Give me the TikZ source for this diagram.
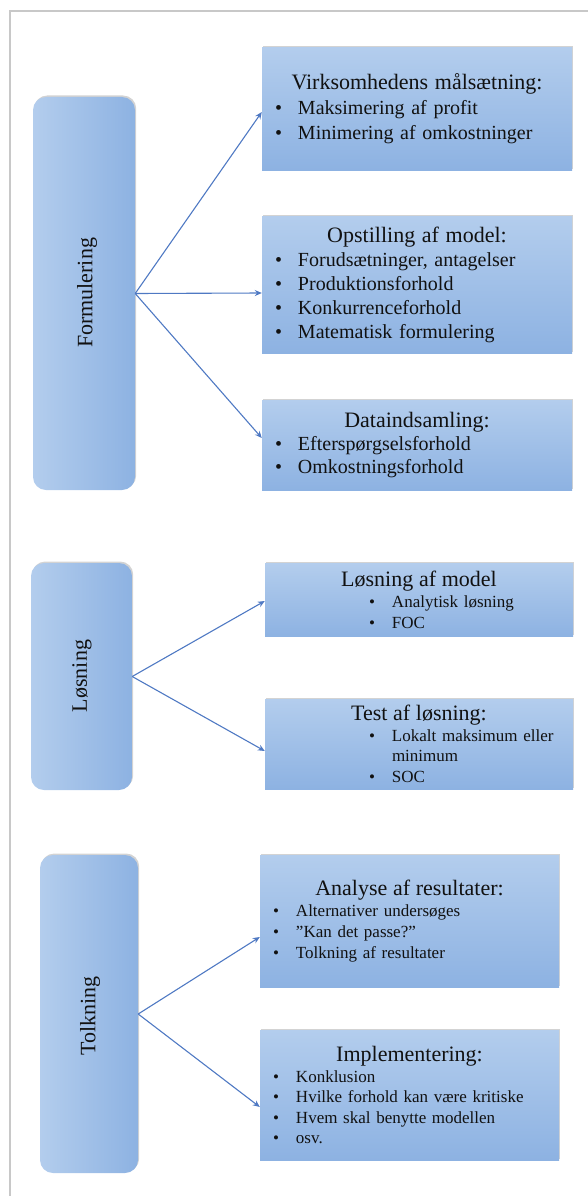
\documentclass[tikz,border=0pt]{standalone}
\usepackage{fontspec}
\setmainfont{Liberation Serif}
\usetikzlibrary{arrows.meta,shadows}

\definecolor{blaatop}{HTML}{B3CDED}
\definecolor{blaabund}{HTML}{8DB2E2}
\definecolor{pilblaa}{HTML}{4F79C3}
\definecolor{ramme}{HTML}{C8C8C8}
\definecolor{tekst}{HTML}{111111}

\newcommand{\pkt}[2]{\hspace*{#1}\makebox[23pt][l]{\textbullet}#2}
\newcommand{\overskrift}[1]{\makebox[\linewidth]{\fontsize{22}{25}\selectfont #1}}

\begin{document}
\begin{tikzpicture}[x=1pt,y=-1pt,
	kasse/.style={top color=blaatop, bottom color=blaabund, inner sep=0pt, align=left, text=tekst,
		drop shadow={shadow xshift=1.2pt, shadow yshift=1.5pt, opacity=.35}},
	fase/.style={rounded corners=13pt, left color=blaatop, right color=blaabund, inner sep=0pt,
		drop shadow={shadow xshift=1.2pt, shadow yshift=1.5pt, opacity=.35}},
	fasetekst/.style={rotate=90, text=tekst, font=\fontsize{22}{25}\selectfont},
	pil/.style={draw=pilblaa, line width=1.1pt, -{Stealth[length=7pt,width=6pt]}}]

	\useasboundingbox (0,0) rectangle (588,1196);
	\clip (0,0) rectangle (588,1196);
	\draw[ramme, line width=1.8pt] (10,11) rectangle (600,1210);

	% Formulering
	\node[fase, minimum width=102pt, minimum height=393pt] (form) at (84,293.5) {};
	\node[fasetekst] (formtekst) at (87,293) {Formulering};
	\node[kasse, text width=310pt, minimum height=122pt, font=\fontsize{20}{25}\selectfont] (maal) at (417,109)
		{\overskrift{Virksomhedens målsætning:}\\
		 \pkt{13pt}{Maksimering af profit}\\
		 \pkt{13pt}{Minimering af omkostninger}};
	\node[kasse, text width=310pt, minimum height=137pt, font=\fontsize{20}{24}\selectfont] (model) at (417,285)
		{\overskrift{Opstilling af model:}\\
		 \pkt{13pt}{Forudsætninger, antagelser}\\
		 \pkt{13pt}{Produktionsforhold}\\
		 \pkt{13pt}{Konkurrenceforhold}\\
		 \pkt{13pt}{Matematisk formulering}};
	\node[kasse, text width=310pt, minimum height=90pt, font=\fontsize{20}{23}\selectfont] (data) at (417,445)
		{\overskrift{Dataindsamling:}\\
		 \pkt{13pt}{Efterspørgselsforhold}\\
		 \pkt{13pt}{Omkostningsforhold}};

	% Løsning
	\node[fase, minimum width=101pt, minimum height=227pt] (loes) at (81.5,676.5) {};
	\node[fasetekst] (loestekst) at (82,676) {Løsning};
	\node[kasse, text width=308pt, minimum height=73pt, font=\fontsize{17}{21}\selectfont] (loesmod) at (419,600)
		{\overskrift{Løsning af model}\\
		 \pkt{104pt}{Analytisk løsning}\\
		 \pkt{104pt}{FOC}};
	\node[kasse, text width=308pt, minimum height=90pt, font=\fontsize{17}{20.5}\selectfont] (test) at (419,744)
		{\overskrift{Test af løsning:}\\
		 \pkt{104pt}{Lokalt maksimum eller}\\
		 \hspace*{127pt}minimum\\
		 \pkt{104pt}{SOC}};

	% Tolkning
	\node[fase, minimum width=98pt, minimum height=318pt] (tolk) at (89,1014) {};
	\node[fasetekst] (tolktekst) at (90,1016) {Tolkning};
	\node[kasse, text width=299pt, minimum height=132pt, font=\fontsize{17}{21}\selectfont] (analyse) at (409.5,921)
		{\overskrift{Analyse af resultater:}\\
		 \pkt{13pt}{Alternativer undersøges}\\
		 \pkt{13pt}{”Kan det passe?”}\\
		 \pkt{13pt}{Tolkning af resultater}};
	\node[kasse, text width=299pt, minimum height=130pt, font=\fontsize{17}{20.5}\selectfont] (impl) at (409.5,1095)
		{\overskrift{Implementering:}\\
		 \pkt{13pt}{Konklusion}\\
		 \pkt{13pt}{Hvilke forhold kan være kritiske}\\
		 \pkt{13pt}{Hvem skal benytte modellen}\\
		 \pkt{13pt}{osv.}};

	\foreach \fra/\til/\s in {form/maal/-3, form/model/-8, form/data/7, loes/loesmod/-1, loes/test/-7, tolk/analyse/-16, tolk/impl/-12}
		\draw[pil] (\fra.east) -- ([yshift=\s pt]\til.west);
\end{tikzpicture}
\end{document}
